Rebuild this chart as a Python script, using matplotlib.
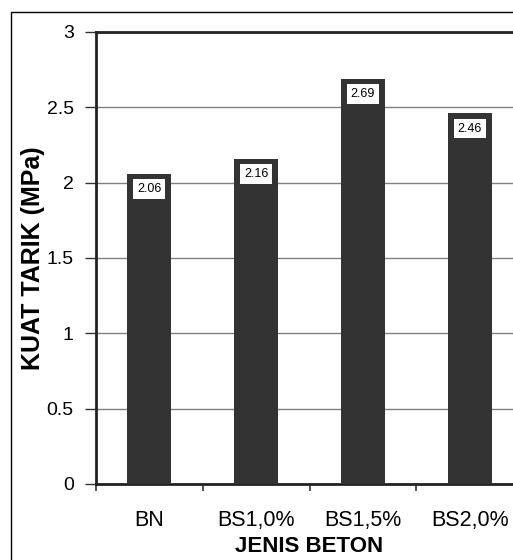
import matplotlib
matplotlib.use("Agg")
import matplotlib.pyplot as plt
from matplotlib.patches import Rectangle

plt.rcParams['font.family'] = ['Liberation Sans', 'DejaVu Sans']

jenis = ["BN", "BS1,0%", "BS1,5%", "BS2,0%"]
kuat_tarik = [2.06, 2.16, 2.69, 2.46]
y_ticks = [0, 0.5, 1, 1.5, 2, 2.5, 3]
y_tick_labels = ["0", "0.5", "1", "1.5", "2", "2.5", "3"]

fig = plt.figure(figsize=(5.13, 5.6), dpi=100)

# outer chart frame (only left and top edges fall inside the picture)
fig.patches.append(Rectangle((11 / 513, -0.05), 1.1, 1 - 12 / 560 + 0.05,
                             transform=fig.transFigure, fill=False,
                             edgecolor="black", linewidth=1.0))

ax = fig.add_axes([96 / 513, 1 - 484 / 560, 427 / 513, (484 - 32) / 560])

x = list(range(len(jenis)))
bars = ax.bar(x, kuat_tarik, width=0.41, color="#333333", zorder=3)

ax.set_xlim(-0.5, len(jenis) - 0.5)
ax.set_ylim(0, 3)
ax.set_yticks(y_ticks)
ax.set_yticklabels(y_tick_labels)
ax.yaxis.grid(True, color="#808080", linewidth=1.0, zorder=0)

# x ticks sit between the categories, labels at the centres
ax.set_xticks([i - 0.5 for i in range(len(jenis) + 1)])
ax.set_xticklabels([""] * (len(jenis) + 1))
ax.set_xticks(x, minor=True)
ax.set_xticklabels(jenis, minor=True)
ax.tick_params(axis="x", which="minor", length=0, pad=19, labelsize=15.5)
ax.tick_params(axis="x", which="major", length=5, width=1.2, color="#333333")
ax.tick_params(axis="y", length=8, width=1.0, color="#333333", pad=8, labelsize=14)

for side in ["left", "bottom", "top"]:
    ax.spines[side].set_linewidth(2.0)
    ax.spines[side].set_color("#222222")
ax.spines["right"].set_visible(False)

for b, v in zip(bars, kuat_tarik):
    ax.annotate(f"{v:.2f}", xy=(b.get_x() + b.get_width() / 2, v),
                xytext=(0, -11), textcoords="offset points",
                ha="center", va="center", fontsize=9, zorder=5,
                bbox=dict(boxstyle="square,pad=0.3", facecolor="white",
                          edgecolor="none"))

ax.set_xlabel("JENIS BETON", fontsize=16, fontweight="bold", labelpad=3)
ax.set_ylabel("KUAT TARIK (MPa)", fontsize=18, fontweight="bold", va="center")
ax.yaxis.set_label_coords(-0.1475, 0.5)

fig.savefig("out.png", dpi=100)
